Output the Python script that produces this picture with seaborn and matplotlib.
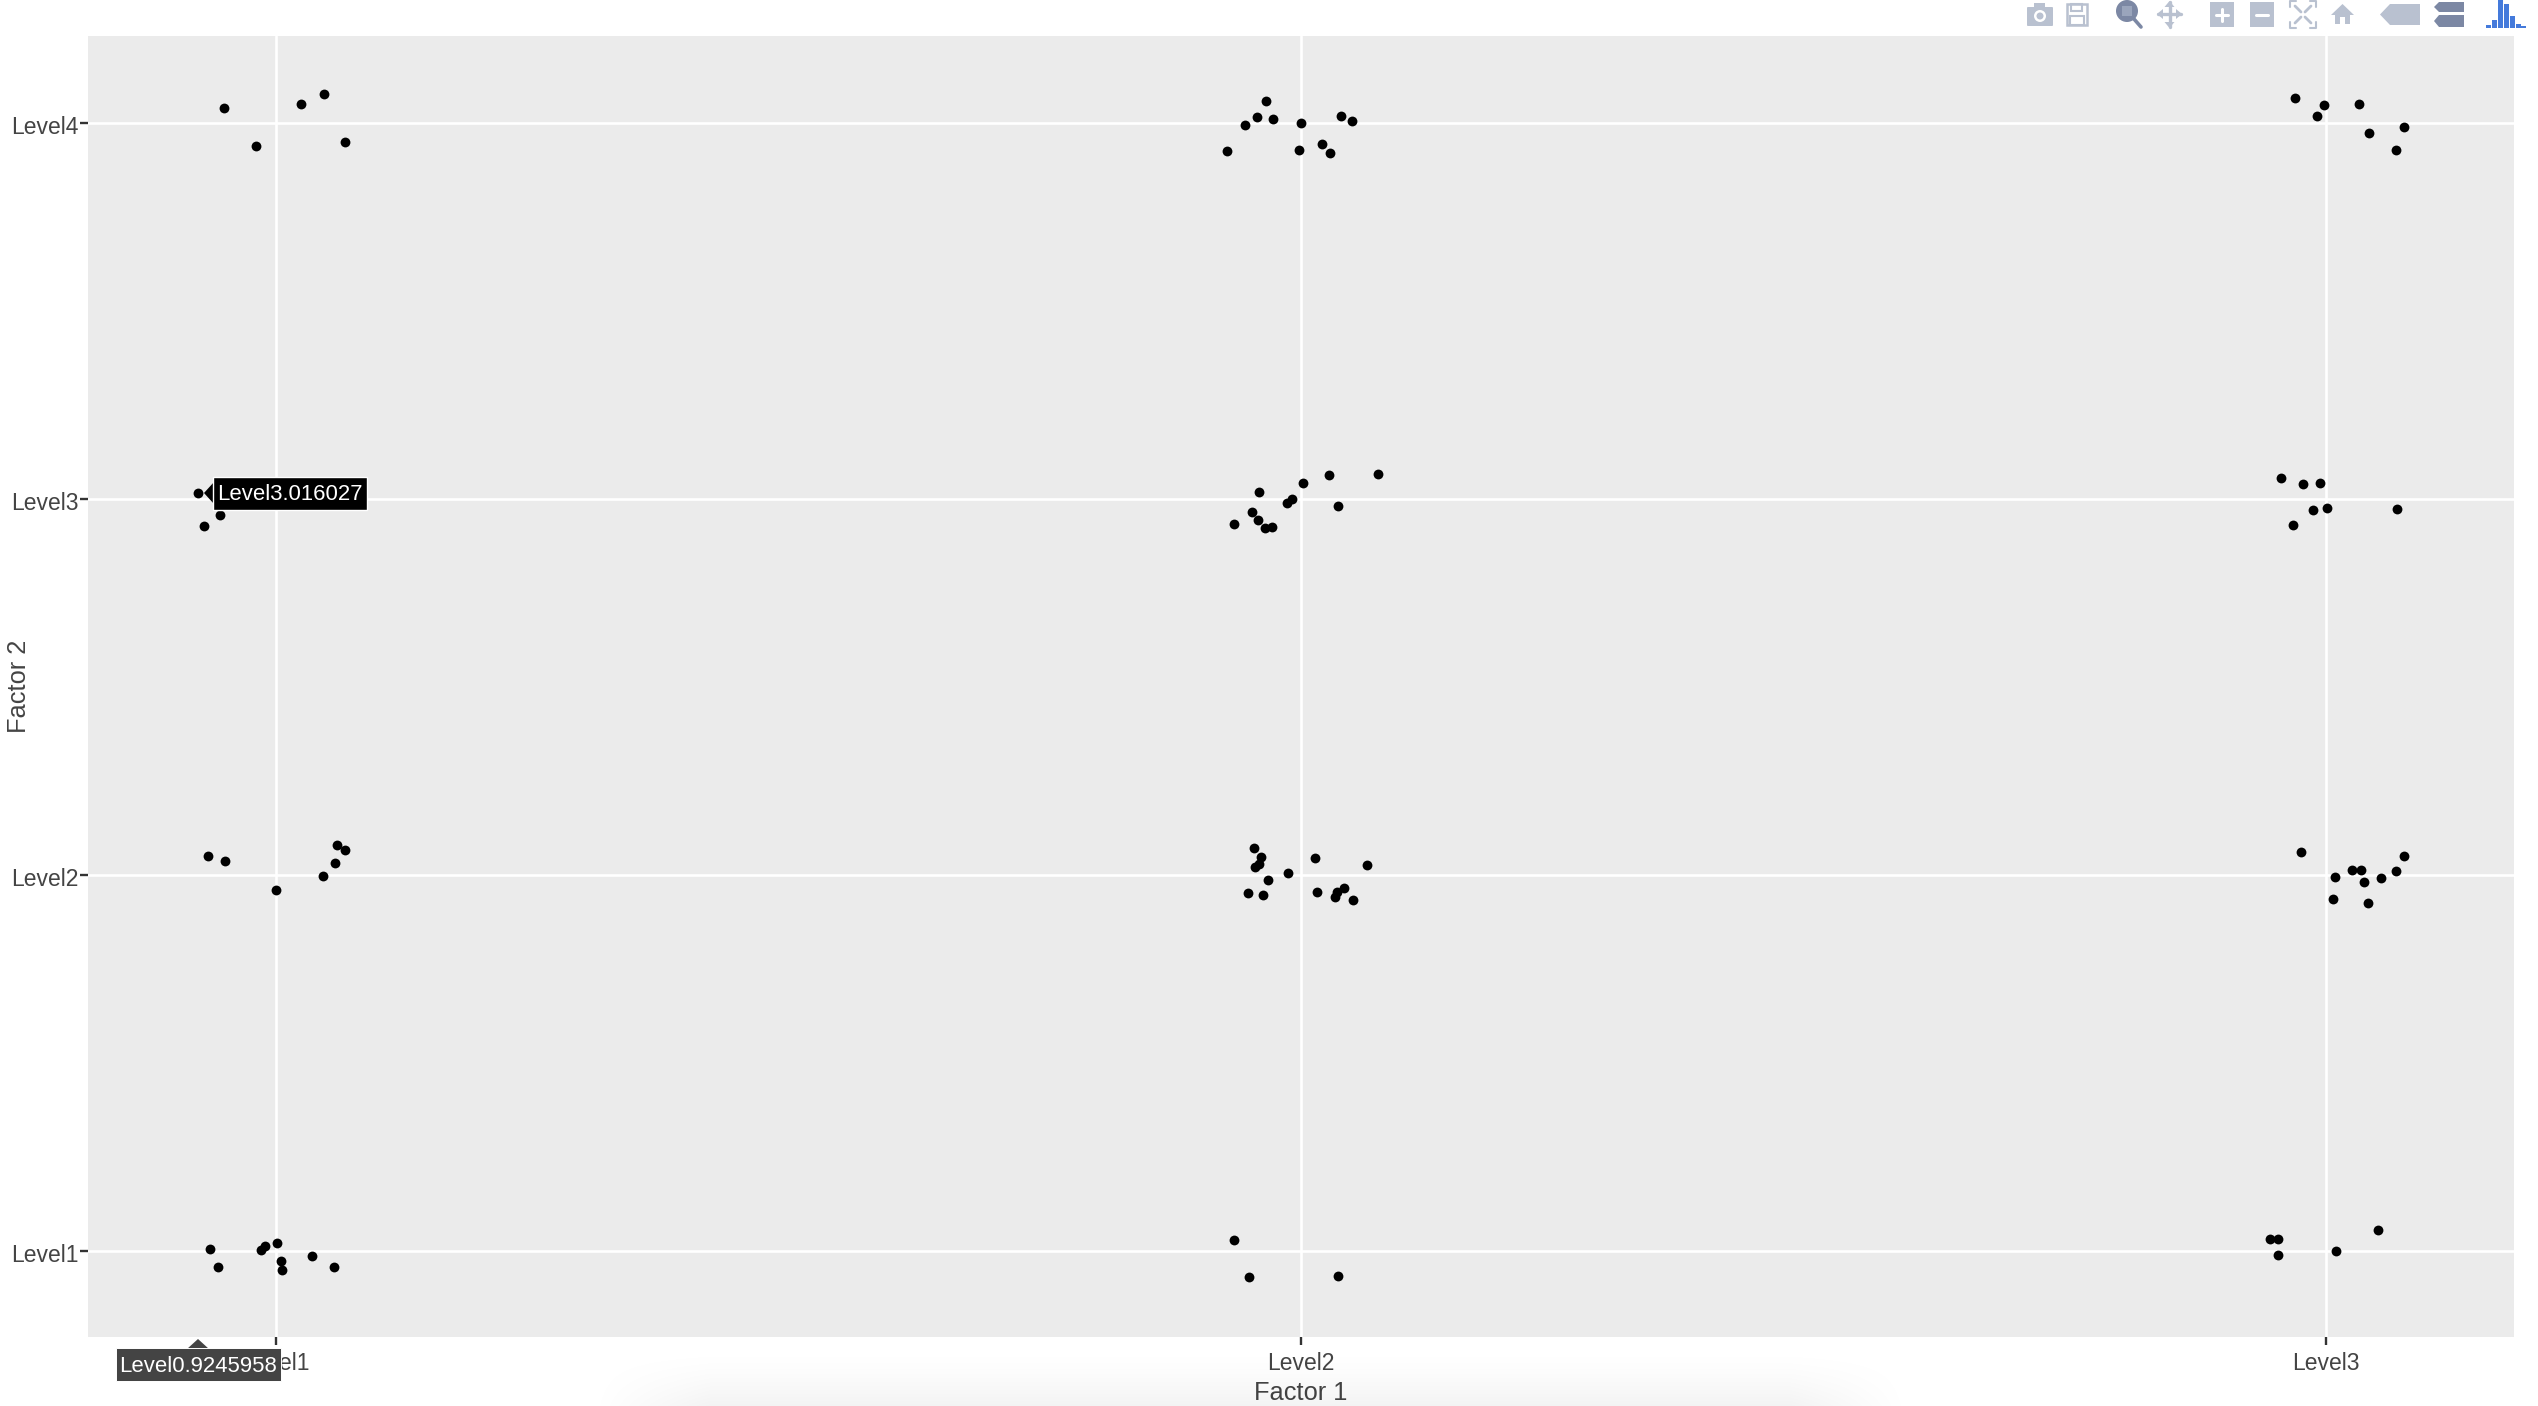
import numpy as np
import pandas as pd
import matplotlib
matplotlib.use("Agg")
import matplotlib.pyplot as plt
from matplotlib.patches import Rectangle, Polygon, Circle, FancyBboxPatch
from matplotlib.transforms import ScaledTranslation
import seaborn as sns

levels = ['Level1', 'Level2', 'Level3', 'Level4']

# jittered points, one list per factor, grouped column by column
factor1 = [
    0.950, 1.025, 1.047, 0.981, 1.068,
    0.9246, 0.946, 0.930,
    0.934, 0.951, 1.000, 1.046, 1.058, 1.060, 1.068,
    0.936, 0.944, 0.986, 0.990, 1.001, 1.005, 1.006, 1.035, 1.057,
    1.928, 1.945, 1.957, 1.966, 1.973, 2.000, 1.998, 2.020, 2.028, 2.039, 2.050,
    1.935, 1.952, 1.959, 1.958, 1.965, 1.972, 1.986, 1.991, 2.002, 2.027, 2.036, 2.075,
    1.954, 1.961, 1.959, 1.955, 1.987, 1.968, 1.948, 1.963, 2.014, 2.064, 2.016, 2.042, 2.035, 2.033, 2.051,
    1.935, 1.949, 2.036,
    2.969, 2.998, 2.991, 3.032, 3.042, 3.076, 3.068,
    2.956, 2.977, 2.994, 2.987, 3.001, 2.967, 3.069,
    2.975, 3.008, 3.025, 3.034, 3.037, 3.053, 3.068, 3.076, 3.006, 3.041,
    2.945, 2.953, 2.953, 3.009, 3.050,
]
factor2 = [
    4.040, 4.050, 4.077, 3.940, 3.950,
    3.016, 2.957, 2.927,
    2.050, 2.037, 1.960, 1.998, 2.032, 2.080, 2.067,
    1.003, 0.957, 1.001, 1.011, 1.019, 0.972, 0.947, 0.985, 0.955,
    3.927, 3.994, 4.017, 4.058, 4.011, 4.001, 3.928, 3.945, 3.921, 4.020, 4.005,
    2.933, 2.966, 3.019, 2.945, 2.924, 2.925, 2.988, 3.001, 3.042, 3.064, 2.980, 3.067,
    2.072, 2.047, 2.028, 2.020, 2.005, 1.987, 1.951, 1.946, 2.044, 2.026, 1.955, 1.965, 1.953, 1.942, 1.932,
    1.028, 0.929, 0.933,
    4.068, 4.049, 4.020, 4.051, 3.975, 3.990, 3.929,
    3.057, 3.040, 3.043, 2.972, 2.977, 2.932, 2.973,
    2.060, 1.995, 2.014, 2.012, 1.981, 1.992, 2.010, 2.051, 1.936, 1.926,
    1.032, 1.032, 0.989, 0.998, 1.054,
]

W, H = 2538, 1406
sns.set_theme(style='white')
plt.rcParams['font.family'] = ['Liberation Sans', 'DejaVu Sans']
TEXT = '#444444'

fig = plt.figure(figsize=(W / 100, H / 100), dpi=100, facecolor='white')
ax = fig.add_axes([88 / W, 1 - 1337 / H, (2514 - 88) / W, (1337 - 36) / H])
ax.set_facecolor('#EBEBEB')

df = pd.DataFrame({'Factor 1': factor1, 'Factor 2': factor2})
sns.scatterplot(data=df, x='Factor 1', y='Factor 2', color='black', s=50,
                linewidth=0, ax=ax, zorder=3)

ax.set_xlim(0.817, 3.183)
ax.set_ylim(0.770, 4.232)
ax.set_xticks([1, 2, 3], levels[:3])
ax.set_yticks([1, 2, 3, 4], levels)
ax.grid(True, color='white', linewidth=1.9)
ax.set_axisbelow(True)
sns.despine(ax=ax, left=True, bottom=True)
ax.tick_params(axis='x', length=6, width=1.7, color='#333333', labelcolor=TEXT,
               labelsize=16.5, pad=4.5, bottom=True)
ax.tick_params(axis='y', length=6, width=1.7, color='#333333', labelcolor=TEXT,
               labelsize=16.5, pad=1, left=True)
# y tick labels sit a little under their gridlines in the original
for lab in ax.get_yticklabels():
    lab.set_transform(lab.get_transform() + ScaledTranslation(0, -2 / 100, fig.dpi_scale_trans))
ax.set_xlabel('Factor 1', fontsize=18.3, color=TEXT)
ax.set_ylabel('Factor 2', fontsize=18.3, color=TEXT)
ax.xaxis.set_label_coords(0.5, -56 / 1301, transform=ax.transAxes)
ax.xaxis.label.set_va('center')
ax.yaxis.set_label_coords(-69 / 2426, 0.5, transform=ax.transAxes)
ax.yaxis.label.set_va('center')

# overlay in pixel coordinates for the browser bits: tooltips, modebar, shadow
ov = fig.add_axes([0, 0, 1, 1], zorder=5)
ov.set_xlim(0, W)
ov.set_ylim(H, 0)
ov.axis('off')
ov.patch.set_alpha(0)

# tooltips
ov.add_patch(Polygon([(204, 493), (214, 482), (214, 504)], fc='black', ec='none'))
ov.add_patch(Rectangle((213, 477), 154, 33, fc='black', ec='white', lw=1))
ov.text(290, 495, 'Level3.016027', color='white', fontsize=15.9, ha='center', va='center')
ov.add_patch(Polygon([(198, 1339), (187, 1349), (209, 1349)], fc='#444444', ec='none'))
ov.add_patch(Rectangle((116, 1348), 165, 33, fc='#444444', ec='white', lw=0.7))
ov.text(198.5, 1366, 'Level0.9245958', color='white', fontsize=15.9, ha='center', va='center')

# modebar
LIGHT = '#B9C1D0'
DARK = '#7C88A4'
BLUE = '#447ADB'

# camera
ov.add_patch(FancyBboxPatch((2028, 8), 24, 17, boxstyle='round,pad=1', fc=LIGHT, ec='none'))
ov.add_patch(Rectangle((2034, 3), 11, 6, fc=LIGHT, ec='none'))
ov.add_patch(Circle((2040, 16), 6, fc='white', ec='none'))
ov.add_patch(Circle((2040, 16), 3.5, fc=LIGHT, ec='none'))
# floppy
ov.add_patch(Rectangle((2067, 4), 20, 21, fc='none', ec=LIGHT, lw=1.8))
ov.add_patch(Rectangle((2071, 4), 11, 7, fc='none', ec=LIGHT, lw=1.5))
ov.add_patch(Rectangle((2070, 16), 14, 9, fc='none', ec=LIGHT, lw=1.5))
# zoom, active
ov.add_patch(Circle((2127, 11), 11, fc=DARK, ec='none'))
ov.add_patch(Rectangle((2122, 6), 10, 10, fc='#9AA5BC', ec='none'))
ov.plot([2134, 2141], [19, 27], color=DARK, lw=2.6)
# pan
ov.plot([2158, 2181], [14, 14], color=LIGHT, lw=2.4)
ov.plot([2169.5, 2169.5], [2, 27], color=LIGHT, lw=2.4)
ov.add_patch(Polygon([(2157, 14), (2163, 9), (2163, 19)], fc=LIGHT, ec='none'))
ov.add_patch(Polygon([(2182, 14), (2176, 9), (2176, 19)], fc=LIGHT, ec='none'))
ov.add_patch(Polygon([(2169.5, 1), (2164.5, 7), (2174.5, 7)], fc=LIGHT, ec='none'))
ov.add_patch(Polygon([(2169.5, 28), (2164.5, 22), (2174.5, 22)], fc=LIGHT, ec='none'))
# zoom in / out
ov.add_patch(Rectangle((2210, 2), 24, 25, fc=LIGHT, ec='none'))
ov.plot([2216, 2228], [14.5, 14.5], color='white', lw=2.2)
ov.plot([2222, 2222], [8.5, 20.5], color='white', lw=2.2)
ov.add_patch(Rectangle((2250, 2), 24, 25, fc=LIGHT, ec='none'))
ov.plot([2256, 2268], [14.5, 14.5], color='white', lw=2.2)
# autoscale
for cx, cy, sx, sy in [(2290, 1, 1, 1), (2316, 1, -1, 1), (2290, 28, 1, -1), (2316, 28, -1, -1)]:
    ov.plot([cx + 6 * sx, cx, cx], [cy, cy, cy + 6 * sy], color=LIGHT, lw=1.5)
    ov.plot([cx + 5 * sx, cx + 11 * sx], [cy + 5 * sy, cy + 11 * sy], color=LIGHT, lw=2)
# home
ov.add_patch(Polygon([(2331, 15), (2342.5, 4), (2354, 15), (2350, 15), (2350, 24), (2345, 24),
                      (2345, 17), (2340, 17), (2340, 24), (2335, 24), (2335, 15)], fc=LIGHT, ec='none'))
# compare tag
ov.add_patch(Polygon([(2380, 14.5), (2390, 4), (2420, 4), (2420, 25), (2390, 25)], fc=LIGHT, ec='none'))
# closest tags
ov.add_patch(Polygon([(2434, 7), (2439, 2), (2464, 2), (2464, 12), (2439, 12)], fc=DARK, ec='none'))
ov.add_patch(Polygon([(2434, 21), (2439, 15), (2464, 15), (2464, 27), (2439, 27)], fc=DARK, ec='none'))
# logo bars
for x0, top in [(2486, 25), (2492, 20), (2498, 0), (2504, 4), (2510, 16), (2516, 24), (2521, 26)]:
    ov.add_patch(Rectangle((x0, top), 4.6, 28 - top, fc=BLUE, ec='none'))

# soft shadow along the bottom edge of the screenshot
xs = np.arange(W)
ys = np.arange(1340, H)
fade_x = np.clip((xs - 590) / 120, 0, 1) * np.clip((1910 - xs) / 120, 0, 1)
fade_y = np.clip((ys - 1345) / 61, 0, 1) ** 1.5
shade = np.zeros((len(ys), W, 4))
shade[..., 3] = np.outer(fade_y, fade_x) * 0.05
ov.imshow(shade, extent=(0, W, H, 1340), aspect='auto', zorder=0)
ov.set_xlim(0, W)
ov.set_ylim(H, 0)

fig.savefig('out.png', dpi=100)
